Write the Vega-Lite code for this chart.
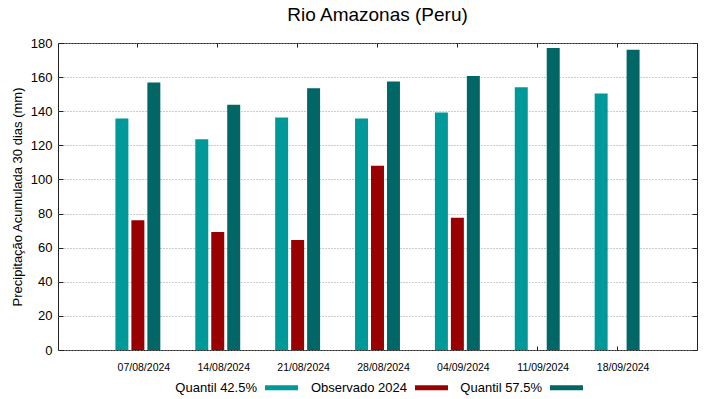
{
  "$schema": "https://vega.github.io/schema/vega-lite/v6.json",
  "autosize": "none",
  "width": 639,
  "height": 307,
  "padding": {"left": 58, "top": 43, "right": 22, "bottom": 49},
  "background": "white",
  "config": {
    "font": "Liberation Sans",
    "view": {"stroke": "#222222", "strokeWidth": 1},
    "axis": {"domain": false, "labelColor": "#000000", "titleColor": "#000000", "tickColor": "#222222"}
  },
  "title": {"text": "Rio Amazonas (Peru)", "fontSize": 19, "fontWeight": "normal", "font": "Liberation Sans", "color": "#000000", "anchor": "middle", "offset": 12},
  "data": {"values": [
    {"date": "07/08/2024", "series": "Quantil 42.5%", "value": 135.7},
    {"date": "07/08/2024", "series": "Observado 2024", "value": 76.1},
    {"date": "07/08/2024", "series": "Quantil 57.5%", "value": 156.9},
    {"date": "14/08/2024", "series": "Quantil 42.5%", "value": 123.5},
    {"date": "14/08/2024", "series": "Observado 2024", "value": 69.2},
    {"date": "14/08/2024", "series": "Quantil 57.5%", "value": 143.8},
    {"date": "21/08/2024", "series": "Quantil 42.5%", "value": 136.3},
    {"date": "21/08/2024", "series": "Observado 2024", "value": 64.5},
    {"date": "21/08/2024", "series": "Quantil 57.5%", "value": 153.5},
    {"date": "28/08/2024", "series": "Quantil 42.5%", "value": 135.7},
    {"date": "28/08/2024", "series": "Observado 2024", "value": 108.0},
    {"date": "28/08/2024", "series": "Quantil 57.5%", "value": 157.5},
    {"date": "04/09/2024", "series": "Quantil 42.5%", "value": 139.2},
    {"date": "04/09/2024", "series": "Observado 2024", "value": 77.5},
    {"date": "04/09/2024", "series": "Quantil 57.5%", "value": 160.6},
    {"date": "11/09/2024", "series": "Quantil 42.5%", "value": 154.1},
    {"date": "11/09/2024", "series": "Quantil 57.5%", "value": 177.0},
    {"date": "18/09/2024", "series": "Quantil 42.5%", "value": 150.4},
    {"date": "18/09/2024", "series": "Quantil 57.5%", "value": 176.1}
  ]},
  "layer": [
    {
      "mark": {"type": "bar"},
      "encoding": {
        "x": {"field": "date", "type": "nominal", "sort": null,
          "scale": {"paddingInner": 0.4, "paddingOuter": 0.7},
          "axis": {"orient": "bottom", "title": null, "labelAngle": 0, "labelFontSize": 10.5, "labelOffset": 6, "tickSize": -4, "labelPadding": 16, "grid": false}},
        "xOffset": {"field": "series", "type": "nominal",
          "scale": {"domain": ["Quantil 42.5%", "Observado 2024", "Quantil 57.5%"], "paddingInner": 0.1875, "paddingOuter": 0.094}},
        "y": {"field": "value", "type": "quantitative",
          "scale": {"domain": [0, 180], "nice": false},
          "axis": {"orient": "left", "title": "Precipitação Acumulada 30 dias (mm)", "titleFontSize": 13, "titleFontWeight": "normal", "titlePadding": 6,
            "values": [0, 20, 40, 60, 80, 100, 120, 140, 160, 180], "labelFontSize": 13, "tickSize": -5, "labelPadding": 11,
            "grid": true, "gridColor": "#999999", "gridDash": [1, 2], "gridWidth": 1}},
        "color": {"field": "series", "type": "nominal",
          "scale": {"domain": ["Quantil 42.5%", "Observado 2024", "Quantil 57.5%"], "range": ["#009999", "#990000", "#006666"]},
          "legend": {"title": null, "orient": "none", "legendX": 207, "legendY": 328, "direction": "horizontal",
            "symbolType": "M-1,-0.15H1V0.15H-1Z", "symbolSize": 1089, "symbolStrokeWidth": 0,
            "labelAlign": "right", "labelOffset": -41, "labelFontSize": 13, "labelColor": "#000000", "columnPadding": 12}}
      }
    },
    {
      "mark": {"type": "bar", "opacity": 0},
      "encoding": {
        "x": {"field": "date", "type": "nominal", "sort": null,
          "axis": {"orient": "top", "title": null, "labels": false, "tickSize": -4, "grid": false}},
        "xOffset": {"field": "series", "type": "nominal"},
        "y": {"field": "value", "type": "quantitative",
          "axis": {"orient": "right", "title": null, "labels": false, "tickSize": -5, "grid": false,
            "values": [0, 20, 40, 60, 80, 100, 120, 140, 160, 180]}},
        "color": {"field": "series", "type": "nominal", "legend": null}
      }
    }
  ]
}
